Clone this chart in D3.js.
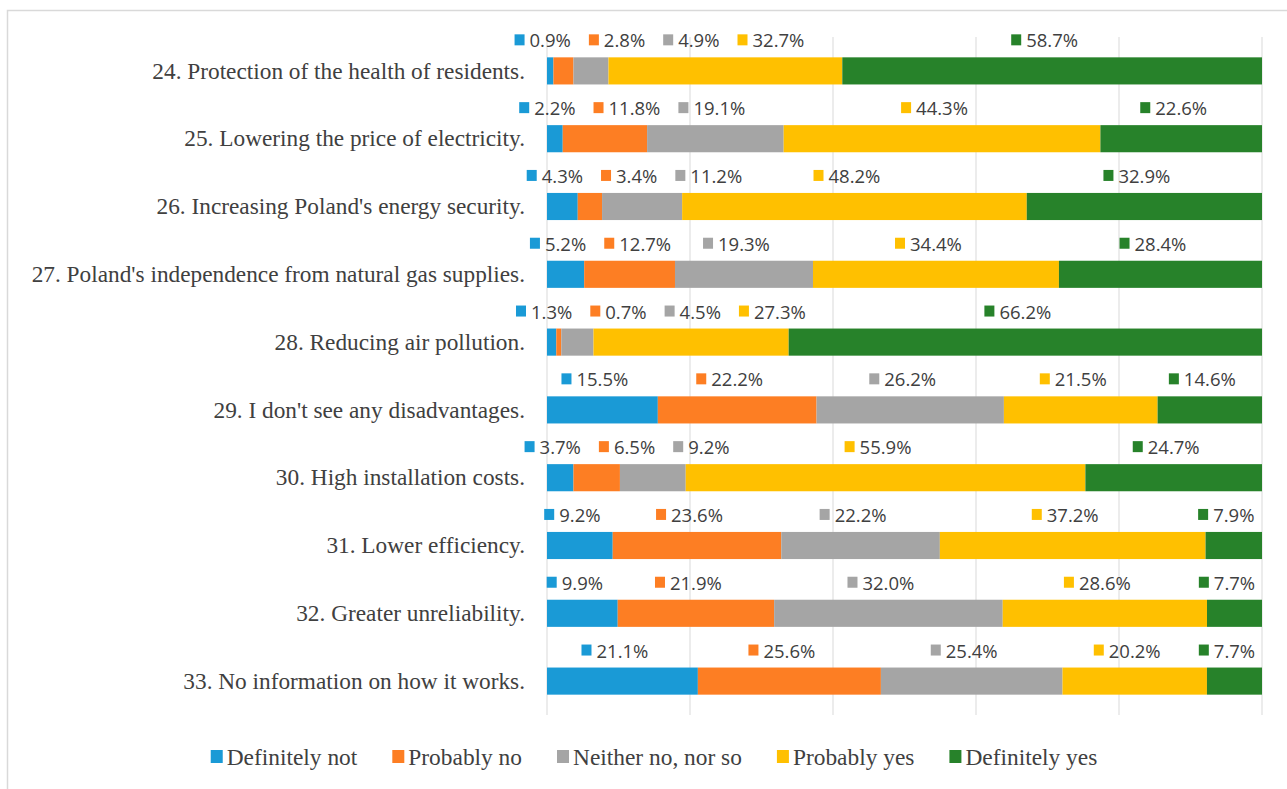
<!DOCTYPE html>
<html>
<head>
<meta charset="utf-8">
<script src="https://cdn.jsdelivr.net/npm/d3@7"></script>
<style>
  html, body { margin: 0; padding: 0; background: #fff; }
  #chart--wrapper { width: 1287px; height: 789px; }
</style>
</head>
<body>
<div id="chart--wrapper"></div>
<script>
// 質問項目
const categories = [
    "24. Protection of the health of residents.",
    "25. Lowering the price of electricity.",
    "26. Increasing Poland's energy security.",
    "27. Poland's independence from natural gas supplies.",
    "28. Reducing air pollution.",
    "29. I don't see any disadvantages.",
    "30. High installation costs.",
    "31. Lower efficiency.",
    "32. Greater unreliability.",
    "33. No information on how it works."
];
// 凡例
const seriesNames = ["Definitely not", "Probably no", "Neither no, nor so", "Probably yes", "Definitely yes"];
// 各回答の割合（%）
const definitelyNot = [0.9, 2.2, 4.3, 5.2, 1.3, 15.5, 3.7, 9.2, 9.9, 21.1];
const probablyNo    = [2.8, 11.8, 3.4, 12.7, 0.7, 22.2, 6.5, 23.6, 21.9, 25.6];
const neitherNo     = [4.9, 19.1, 11.2, 19.3, 4.5, 26.2, 9.2, 22.2, 32.0, 25.4];
const probablyYes   = [32.7, 44.3, 48.2, 34.4, 27.3, 21.5, 55.9, 37.2, 28.6, 20.2];
const definitelyYes = [58.7, 22.6, 32.9, 28.4, 66.2, 14.6, 24.7, 7.9, 7.7, 7.7];
// x軸の目盛り（グリッド線のみ）
const xTicks = [0, 0.2, 0.4, 0.6, 0.8, 1];

const colors = ["#1a9ad6", "#fd7e23", "#a5a5a5", "#ffc000", "#27822a"];

// 積み上げ用の表
const seriesValues = [definitelyNot, probablyNo, neitherNo, probablyYes, definitelyYes];
const table = categories.map(function(c, i) {
    const row = { category: c };
    seriesNames.forEach(function(s, j) { row[s] = seriesValues[j][i]; });
    return row;
});

draw();

function draw() {
    const width = 1287, height = 789;
    const svg = d3.select("#chart--wrapper").append("svg")
        .attr("width", width)
        .attr("height", height);

    // 枠線
    svg.append("rect")
        .attr("x", 7.5).attr("y", 10.5)
        .attr("width", 1300).attr("height", 800)
        .attr("fill", "none")
        .attr("stroke", "#d9d9d9")
        .attr("stroke-width", 1.5);

    const xScale = d3.scaleLinear().domain([0, 1]).range([547, 1262]);
    const yScale = d3.scaleBand().domain(categories)
        .range([37, 715]).paddingInner(0.6).paddingOuter(0.3);

    // グリッド線
    svg.append("g")
        .selectAll("line")
        .data(xTicks)
        .join("line")
        .attr("x1", function(d) { return xScale(d); })
        .attr("x2", function(d) { return xScale(d); })
        .attr("y1", 37).attr("y2", 715)
        .attr("stroke", "#d9d9d9")
        .attr("stroke-width", 1);

    // 100%積み上げ
    const stack = d3.stack().keys(seriesNames).offset(d3.stackOffsetExpand);
    const layers = stack(table);

    svg.append("g")
        .selectAll("g")
        .data(layers)
        .join("g")
        .attr("fill", function(d, i) { return colors[i]; })
        .selectAll("rect")
        .data(function(d) { return d; })
        .join("rect")
        .attr("x", function(d) { return xScale(d[0]); })
        .attr("width", function(d) { return xScale(d[1]) - xScale(d[0]); })
        .attr("y", function(d) { return yScale(d.data.category); })
        .attr("height", yScale.bandwidth());

    // 項目ラベル
    svg.append("g")
        .selectAll("text")
        .data(categories)
        .join("text")
        .attr("x", 525)
        .attr("y", function(d) { return yScale(d) + yScale.bandwidth() / 2; })
        .attr("dy", "0.33em")
        .attr("text-anchor", "end")
        .attr("font-family", "'Liberation Serif', serif")
        .attr("font-size", 23.3)
        .attr("fill", "#404040")
        .text(function(d) { return d; });

    // データラベル（凡例マーカー付き）
    const labelLayer = svg.append("g");
    const markerW = 10, markerGap = 5, minGap = 18;
    categories.forEach(function(c, i) {
        const top = yScale(c);
        const items = layers.map(function(layer, j) {
            const seg = layer[i];
            const g = labelLayer.append("g");
            const t = g.append("text")
                .attr("font-family", "'Open Sans', sans-serif")
                .attr("font-size", 18.5)
                .attr("fill", "#404040")
                .text(seriesValues[j][i].toFixed(1) + "%");
            const tw = t.node().getComputedTextLength();
            return { g: g, t: t, tw: tw, w: markerW + markerGap + tw,
                     center: xScale((seg[0] + seg[1]) / 2), color: colors[j] };
        });
        // 左から順に重なりを解消
        items.forEach(function(it, k) {
            it.left = it.center - it.tw / 2 - markerW - markerGap;
            if (k > 0) {
                const prev = items[k - 1];
                it.left = Math.max(it.left, prev.left + prev.w + minGap);
            }
        });
        // 右端を越えたら押し戻す
        for (let k = items.length - 1; k >= 0; k--) {
            const limit = k === items.length - 1 ? 1268 : items[k + 1].left - minGap;
            if (items[k].left + items[k].w > limit) items[k].left = limit - items[k].w;
        }
        items.forEach(function(it) {
            const base = top - 10;
            it.g.append("rect")
                .attr("x", it.left).attr("y", base - 13)
                .attr("width", markerW).attr("height", 11)
                .attr("fill", it.color);
            it.t.attr("x", it.left + markerW + markerGap).attr("y", base);
        });
    });

    // 凡例
    const legend = svg.append("g");
    const legendItems = seriesNames.map(function(s, j) {
        const g = legend.append("g");
        g.append("rect").attr("width", 12).attr("height", 13)
            .attr("y", -7).attr("fill", colors[j]);
        const t = g.append("text")
            .attr("x", 16).attr("dy", "0.33em")
            .attr("font-family", "'Liberation Serif', serif")
            .attr("font-size", 23.4)
            .attr("fill", "#404040")
            .text(s);
        return { g: g, w: 16 + t.node().getComputedTextLength() };
    });
    const spacing = 35;
    const total = d3.sum(legendItems, function(d) { return d.w; }) + spacing * (legendItems.length - 1);
    let lx = 654 - total / 2;
    legendItems.forEach(function(it) {
        it.g.attr("transform", "translate(" + lx + ",757)");
        lx += it.w + spacing;
    });
}
</script>
</body>
</html>
